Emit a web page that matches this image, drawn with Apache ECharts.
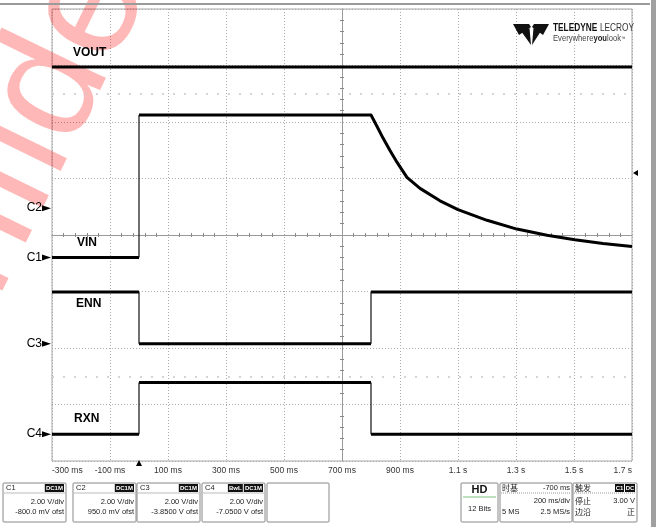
<!DOCTYPE html>
<html><head><meta charset="utf-8">
<script src="https://cdn.jsdelivr.net/npm/echarts@6/dist/echarts.min.js"></script>
<style>html,body{margin:0;padding:0;background:#fff}#c{width:656px;height:527px}</style>
</head><body><div id="c"></div>
<script>
// ---- data (time in ms, level in volts) ----
const timeTickLabels = ['-300 ms','-100 ms','100 ms','300 ms','500 ms','700 ms','900 ms','1.1 s','1.3 s','1.5 s','1.7 s'];
const timeStartMs = -300;
const msPerDiv = 200;
const voltsPerDiv = 2;

const voutTimes = [-300, 1700];
const voutVolts = [5.0, 5.0];
const voutOffset = 0.95;   // C2

const vinTimes = [-300, 0, 0, 800, 820, 841, 865, 890, 924, 969, 1038, 1100, 1200, 1303, 1407, 1503, 1600, 1700];
const vinVolts = [0, 0, 5.05, 5.05, 4.66, 4.24, 3.80, 3.37, 2.84, 2.45, 2.01, 1.70, 1.32, 1.01, 0.79, 0.63, 0.50, 0.39];
const vinOffset = -0.8;    // C1

const ennTimes = [-300, 0, 0, 800, 800, 1700];
const ennVolts = [1.83, 1.83, 0, 0, 1.83, 1.83];
const ennOffset = -3.85;   // C3

const rxnTimes = [-300, 0, 0, 800, 800, 1700];
const rxnVolts = [0, 0, 1.83, 1.83, 0, 0];
const rxnOffset = -7.05;   // C4

const ghostLevels = [2.5, -2.5];

// ---- helpers ----
const toDivX = t => (t - timeStartMs) / msPerDiv;
const toDivY = (v, ofst) => (v + ofst) / voltsPerDiv;

function traceSeries(times, volts, ofst) {
  const thick = [], thin = [];
  for (let i = 0; i < times.length; i++) {
    const p = [toDivX(times[i]), toDivY(volts[i], ofst)];
    if (i > 0 && times[i] === times[i - 1]) {
      thick.push([p[0], null]);
      thin.push([toDivX(times[i - 1]), toDivY(volts[i - 1], ofst)], p, [p[0], null]);
    }
    thick.push(p);
  }
  return [
    { type: 'line', xAxisIndex: 0, yAxisIndex: 0, data: thick, showSymbol: false, symbol: 'none',
      smooth: false, connectNulls: false, z: 5,
      lineStyle: { color: '#000', width: 3, join: 'round' }, silent: true, animation: false },
    { type: 'line', xAxisIndex: 0, yAxisIndex: 0, data: thin, showSymbol: false, symbol: 'none',
      connectNulls: false, z: 5, lineStyle: { color: '#111', width: 1.2 }, silent: true, animation: false }
  ];
}

const FN = "'Liberation Sans Narrow','Liberation Sans',Arial,sans-serif";
const FS = "'Liberation Sans',Arial,sans-serif";
const CJK = "'Noto Sans CJK SC','Liberation Sans',sans-serif";

const G = { left: 52, top: 9, width: 580, height: 452 };

function txt(x, y, text, o, extra) {
  o = o || {};
  return Object.assign({ type: 'text', x: x, y: y, z: 20, style: Object.assign({ text: text, fontSize: 7.5, fontFamily: FN, fill: '#222', align: 'left', verticalAlign: 'middle' }, o) }, extra || {});
}
function rect(x, y, w, h, o) {
  return { type: 'rect', z: 19, shape: { x: x, y: y, width: w, height: h, r: (o && o.r) || 0 }, style: Object.assign({ fill: '#fff', stroke: '#888', lineWidth: 1 }, o || {}) };
}
function badge(x, y, w, text) {
  return [rect(x, y, w, 8, { fill: '#111', stroke: null }), txt(x + w / 2, y + 4.3, text, { fill: '#fff', fontSize: 6, fontWeight: 'bold', align: 'center' })];
}
function poly(points, fill) {
  return { type: 'polygon', z: 20, shape: { points: points }, style: { fill: fill || '#000' } };
}
function hline(x1, x2, y, color, dash) {
  return { type: 'line', z: 20, shape: { x1: x1, y1: y, x2: x2, y2: y }, style: { stroke: color || '#aaa', lineWidth: 1, lineDash: dash || null } };
}

const graphics = [];
// watermark
graphics.push({ type: 'text', x: -60, y: 500, rotation: 64 * Math.PI / 180, z: 1,
  style: { text: 'Confidential', fontSize: 160, fontFamily: FS, fill: 'rgba(255,0,0,0.28)', align: 'left', verticalAlign: 'bottom' } });
// frame decorations
graphics.push({ type: 'rect', z: 18, shape: { x: 0, y: 3, width: 650, height: 2 }, style: { fill: '#9a9a9a' } });
graphics.push({ type: 'rect', z: 18, shape: { x: 651, y: 0, width: 5, height: 527 }, style: { fill: '#a0a0a0' } });

// logo
graphics.push(poly([[513, 24], [529, 24], [531, 27], [519, 35]], '#111'));
graphics.push(poly([[549, 24], [534, 24], [532, 27], [543, 35]], '#111'));
graphics.push(poly([[521, 31], [529.5, 28], [531, 45]], '#111'));
graphics.push(poly([[541, 31], [533.5, 28], [532, 45]], '#111'));
graphics.push({ type: 'text', x: 553, y: 28, z: 20, scaleX: 0.79, style: { text: '{b|TELEDYNE} {l|LECROY}', verticalAlign: 'middle',
  rich: { b: { fontSize: 10.5, fontWeight: 'bold', fontFamily: FS, fill: '#111' }, l: { fontSize: 10.5, fontFamily: FS, fill: '#333' } } } });
graphics.push({ type: 'text', x: 553, y: 39, z: 20, scaleX: 0.9, style: { text: '{a|Everywhere}{b|you}{a|look}{s|™}', verticalAlign: 'middle',
  rich: { a: { fontSize: 8.5, fontFamily: FS, fill: '#444' }, b: { fontSize: 8.5, fontWeight: 'bold', fontFamily: FS, fill: '#222' }, s: { fontSize: 5, fontFamily: FS, fill: '#444' } } } });

// channel names
const chNames = [['VOUT', 73, 53], ['VIN', 77, 243], ['ENN', 76, 304], ['RXN', 74, 419]];
chNames.forEach(c => graphics.push(txt(c[1], c[2], c[0], { fontSize: 12, fontWeight: 'bold', fontFamily: FS, fill: '#000' })));

// channel ground markers
const chMarks = [['C2', voutOffset], ['C1', vinOffset], ['C3', ennOffset], ['C4', rxnOffset]];
chMarks.forEach(c => {
  const y = G.top + G.height / 2 - (c[1] / voltsPerDiv) * (G.height / 8);
  graphics.push(txt(42, y, c[0], { fontSize: 12, fontFamily: FS, fill: '#000', align: 'right' }));
  graphics.push(poly([[42, y - 3], [51, y], [42, y + 3]], '#000'));
});
// trigger markers
graphics.push(poly([[136, 466], [142, 466], [139, 460]], '#000'));
graphics.push(poly([[633, 173], [638, 170], [638, 176]], '#000'));

// bottom left channel boxes
const chanBoxes = [
  { x: 3, name: 'C1', badges: ['DC1M'], vdiv: '2.00 V/div', ofst: '-800.0 mV ofst' },
  { x: 73, name: 'C2', badges: ['DC1M'], vdiv: '2.00 V/div', ofst: '950.0 mV ofst' },
  { x: 137, name: 'C3', badges: ['DC1M'], vdiv: '2.00 V/div', ofst: '-3.8500 V ofst' },
  { x: 202, name: 'C4', badges: ['BwL', 'DC1M'], vdiv: '2.00 V/div', ofst: '-7.0500 V ofst' }
];
chanBoxes.forEach(b => {
  const w = 63;
  graphics.push(rect(b.x, 483, w, 39, { r: 1 }));
  graphics.push(hline(b.x + 1, b.x + w - 1, 493, '#bbb'));
  graphics.push(txt(b.x + 3, 488, b.name, { fontSize: 7.5 }));
  let bx = b.x + w - 2;
  b.badges.slice().reverse().forEach(t => {
    const bw = t.length * 4.3 + 2;
    bx -= bw;
    graphics.push(...badge(bx, 484, bw, t));
    bx -= 1;
  });
  graphics.push(txt(b.x + w - 2, 502, b.vdiv, { align: 'right' }));
  graphics.push(txt(b.x + w - 2, 512, b.ofst, { align: 'right' }));
});
graphics.push(rect(267, 483, 62, 39, { r: 1 }));

// bottom right boxes
graphics.push(rect(461, 483, 37, 39, { r: 1 }));
graphics.push(txt(479.5, 490, 'HD', { fontSize: 11, fontWeight: 'bold', fontFamily: FS, align: 'center', fill: '#111' }));
graphics.push(hline(463, 496, 497, '#7fbf7f'));
graphics.push(txt(479.5, 509, '12 Bits', { align: 'center' }));

graphics.push(rect(500, 483, 72, 39, { r: 1 }));
graphics.push(hline(501, 571, 493, '#999', [1, 1]));
graphics.push(txt(502, 488, '时基', { fontFamily: CJK, fontSize: 8 }));
graphics.push(txt(570, 488, '-700 ms', { align: 'right' }));
graphics.push(txt(570, 501, '200 ms/div', { align: 'right' }));
graphics.push(txt(502, 512, '5 MS'));
graphics.push(txt(570, 512, '2.5 MS/s', { align: 'right' }));

graphics.push(rect(573, 483, 64, 39, { r: 1 }));
graphics.push(hline(574, 636, 493, '#999', [1, 1]));
graphics.push(txt(575, 488, '触发', { fontFamily: CJK, fontSize: 8 }));
graphics.push(...badge(615, 484, 9, 'C1'));
graphics.push(...badge(625, 484, 10, 'DC'));
graphics.push(txt(575, 501, '停止', { fontFamily: CJK, fontSize: 8 }));
graphics.push(txt(635, 501, '3.00 V', { align: 'right' }));
graphics.push(txt(575, 512, '边沿', { fontFamily: CJK, fontSize: 8 }));
graphics.push(txt(635, 512, '正', { fontFamily: CJK, fontSize: 8, align: 'right' }));

// ---- chart ----
const crossAxisX = (gi, inside, showLine) => ({
  gridIndex: gi, type: 'value', min: -5, max: 5, interval: 1,
  axisLine: { show: showLine, onZero: true, lineStyle: { color: '#999', width: 1 } },
  axisTick: { show: false, inside: inside }, axisLabel: { show: false }, splitLine: { show: false },
  minorTick: { show: true, splitNumber: 5, length: 2, lineStyle: { color: '#888', width: 1 } }
});
const crossAxisY = (gi, inside, showLine) => ({
  gridIndex: gi, type: 'value', min: -4, max: 4, interval: 1,
  axisLine: { show: showLine, onZero: true, lineStyle: { color: '#999', width: 1 } },
  axisTick: { show: false, inside: inside }, axisLabel: { show: false }, splitLine: { show: false },
  minorTick: { show: true, splitNumber: 5, length: 2, lineStyle: { color: '#888', width: 1 } }
});

const series = [].concat(
  traceSeries(voutTimes, voutVolts, voutOffset),
  traceSeries(vinTimes, vinVolts, vinOffset),
  traceSeries(ennTimes, ennVolts, ennOffset),
  traceSeries(rxnTimes, rxnVolts, rxnOffset)
);
series.push({ type: 'line', xAxisIndex: 0, yAxisIndex: 0, data: [], silent: true,
  markLine: { symbol: 'none', silent: true, label: { show: false }, animation: false,
    lineStyle: { color: '#c8c8c8', type: [2, 9], width: 1.5 },
    data: ghostLevels.map(v => ({ yAxis: v })) } });

const chart = echarts.init(document.getElementById('c'), null, { renderer: 'canvas' });
chart.setOption({
  animation: false,
  backgroundColor: '#fff',
  grid: [
    Object.assign({ show: true, borderColor: '#a8a8a8', borderWidth: 1, backgroundColor: 'transparent' }, G),
    Object.assign({}, G),
    Object.assign({}, G)
  ],
  xAxis: [
    { gridIndex: 0, type: 'value', min: 0, max: 10, interval: 1,
      axisLine: { show: false }, axisTick: { show: false },
      splitLine: { show: true, lineStyle: { color: '#aaa', type: [1, 2], width: 1 } },
      axisLabel: { show: true, margin: 5, fontSize: 8.5, color: '#333', fontFamily: FN,
        alignMinLabel: 'left', alignMaxLabel: 'right', showMinLabel: true, showMaxLabel: true,
        formatter: v => timeTickLabels[Math.round(v)] || '' } },
    crossAxisX(1, false, true),
    crossAxisX(2, true, false)
  ],
  yAxis: [
    { gridIndex: 0, type: 'value', min: -4, max: 4, interval: 1,
      axisLine: { show: false }, axisTick: { show: false }, axisLabel: { show: false },
      splitLine: { show: true, lineStyle: { color: '#aaa', type: [1, 2], width: 1 } } },
    crossAxisY(1, false, true),
    crossAxisY(2, true, false)
  ],
  series: series,
  graphic: graphics
});
</script></body></html>
